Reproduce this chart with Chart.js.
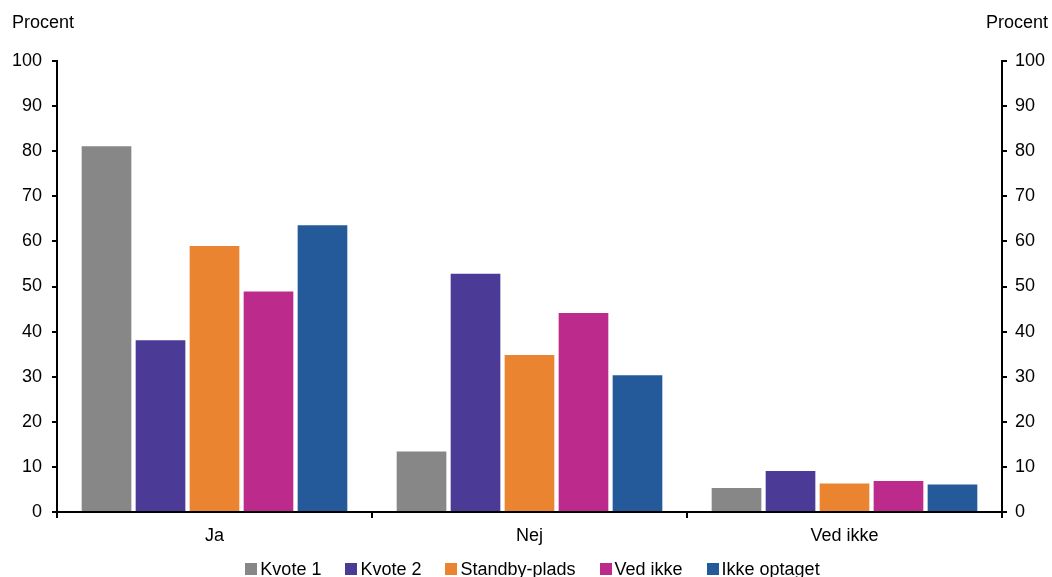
<!DOCTYPE html>
<html><head><meta charset="utf-8">
<script src="https://cdn.jsdelivr.net/npm/chart.js@4"></script>
<style>html,body{margin:0;padding:0;background:#fff}#wrap{width:1052px;height:577px;position:relative}</style>
</head><body><div id="wrap"><canvas id="c"></canvas></div>
<script>
const categories = ["Ja", "Nej", "Ved ikke"];
const seriesNames = ["Kvote 1", "Kvote 2", "Standby-plads", "Ved ikke", "Ikke optaget"];
const kvote1 = [81.1, 13.4, 5.3];
const kvote2 = [38.1, 52.8, 9.1];
const standby = [59.0, 34.8, 6.3];
const vedIkke = [48.9, 44.1, 6.9];
const ikkeOptaget = [63.6, 30.3, 6.1];
const yTicks = [0, 10, 20, 30, 40, 50, 60, 70, 80, 90, 100];
const colors = ["#878787", "#4B3A96", "#EA8430", "#BC2A8C", "#255A9A"];
const FONT_FAMILY = "Arial, 'Liberation Sans', sans-serif";
const font = {family: FONT_FAMILY, size: 18};

const seriesValues = [kvote1, kvote2, standby, vedIkke, ikkeOptaget];
const datasets = seriesNames.map((n, i) => ({
  label: n, data: seriesValues[i], backgroundColor: colors[i], yAxisID: 'y',
  categoryPercentage: 0.857, barPercentage: 0.92, borderWidth: 0
}));

const extrasPlugin = {
  id: 'extras',
  afterDraw(chart) {
    const ctx = chart.ctx;
    ctx.save();
    ctx.font = "18px " + FONT_FAMILY;
    ctx.fillStyle = '#000';
    ctx.textBaseline = 'alphabetic';
    ctx.textAlign = 'left';
    ctx.fillText('Procent', 12, 28);
    ctx.textAlign = 'right';
    ctx.fillText('Procent', 1048, 28);
    // legend
    const box = 12, gapText = 3, gapItem = 24;
    const widths = seriesNames.map(n => box + gapText + ctx.measureText(n).width);
    const total = widths.reduce((a, b) => a + b, 0) + gapItem * (widths.length - 1);
    let x = 532.5 - total / 2;
    const cy = 569;
    ctx.textAlign = 'left';
    ctx.textBaseline = 'middle';
    seriesNames.forEach((n, i) => {
      ctx.fillStyle = colors[i];
      ctx.fillRect(Math.round(x), cy - box / 2, box, box);
      ctx.fillStyle = '#000';
      ctx.fillText(n, x + box + gapText, cy + 1);
      x += widths[i] + gapItem;
    });
    ctx.restore();
  }
};

new Chart(document.getElementById('c'), {
  type: 'bar',
  data: {labels: categories, datasets},
  options: {
    responsive: true, maintainAspectRatio: false, animation: false,
    layout: {padding: {top: 61, bottom: 29, left: 0, right: 0}},
    plugins: {
      legend: {display: false},
      tooltip: {enabled: false}
    },
    scales: {
      x: {
        offset: true,
        afterFit(s) { s.height = 36; },
        grid: {offset: true, drawOnChartArea: false, drawTicks: true, tickLength: 6, color: '#000', lineWidth: 2},
        border: {color: '#000', width: 2},
        ticks: {font, color: '#000', padding: 7}
      },
      y: {
        position: 'left', min: 0, max: 100,
        afterBuildTicks(s) { s.ticks = yTicks.map(v => ({value: v})); },
        afterFit(s) { s.width = 57; },
        grid: {drawOnChartArea: false, drawTicks: true, tickLength: 5, color: '#000', lineWidth: 2},
        border: {color: '#000', width: 2},
        ticks: {font, color: '#000', padding: 10}
      },
      y2: {
        position: 'right', min: 0, max: 100,
        afterBuildTicks(s) { s.ticks = yTicks.map(v => ({value: v})); },
        afterFit(s) { s.width = 50; },
        grid: {drawOnChartArea: false, drawTicks: true, tickLength: 5, color: '#000', lineWidth: 2},
        border: {color: '#000', width: 2},
        ticks: {font, color: '#000', padding: 8}
      }
    }
  },
  plugins: [extrasPlugin]
});
</script></body></html>
